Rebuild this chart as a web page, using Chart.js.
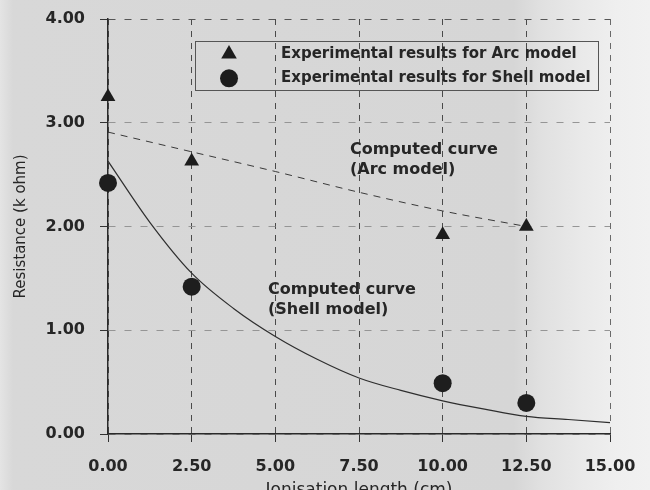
<!DOCTYPE html>
<html>
<head>
<meta charset="utf-8">
<script src="https://cdn.jsdelivr.net/npm/chart.js@4/dist/chart.umd.min.js"></script>
<style>
  html, body { margin: 0; padding: 0; background: #d7d7d7; }
  #wrap { width: 650px; height: 490px; }
</style>
</head>
<body>
<div id="wrap"><canvas id="c" width="650" height="490"></canvas></div>
<script>
// Axis ticks
const lengthTicks = [0, 2.5, 5, 7.5, 10, 12.5, 15];
const resistanceTicks = [0, 1, 2, 3, 4];

// Measured resistance (k ohm) against ionisation length (cm)
const measuredLength = [0, 2.5, 10, 12.5];
const arcMeasured = [3.25, 2.63, 1.92, 2.0];
const shellMeasured = [2.42, 1.42, 0.49, 0.30];

// Computed curves
const arcCurveLength = [0, 2.5, 5, 7.5, 10, 12.5];
const arcComputed = [2.91, 2.72, 2.53, 2.33, 2.15, 2.0];
const shellCurveLength = [0, 1.25, 2.5, 3.75, 5, 6.25, 7.5, 8.75, 10, 11.25, 12.5, 13.75, 15];
const shellComputed = [2.63, 2.04, 1.55, 1.21, 0.94, 0.72, 0.54, 0.42, 0.32, 0.24, 0.17, 0.14, 0.11];

const legendItems = [
  { style: 'triangle', text: 'Experimental results for Arc model' },
  { style: 'circle', text: 'Experimental results for Shell model' }
];
const curveNotes = [
  { x: 7.23, y: 2.74, lines: ['Computed curve', '(Arc model)'] },
  { x: 4.78, y: 1.39, lines: ['Computed curve', '(Shell model)'] }
];
const xTitle = 'Ionisation length (cm)';
const yTitle = 'Resistance (k ohm)';

const pts = (xs, ys) => xs.map((x, i) => ({ x: x, y: ys[i] }));
const INK = '#262626';
const FONT = '"DejaVu Sans", sans-serif';

const decor = {
  id: 'decor',
  beforeDraw(chart) {
    const { ctx, width, height } = chart;
    const g = ctx.createLinearGradient(0, 0, width, 0);
    g.addColorStop(0, '#e4e4e4');
    g.addColorStop(0.02, '#d8d8d8');
    g.addColorStop(0.79, '#d6d6d6');
    g.addColorStop(0.83, '#e0e0e0');
    g.addColorStop(0.9, '#eaeaea');
    g.addColorStop(0.95, '#efefef');
    g.addColorStop(1, '#f1f1f1');
    ctx.save();
    ctx.fillStyle = g;
    ctx.fillRect(0, 0, width, height);
    ctx.restore();
  },
  afterDatasetsDraw(chart) {
    const { ctx, chartArea } = chart;
    const xs = chart.scales.x, ys = chart.scales.y;
    ctx.save();

    // legend box
    const bx0 = xs.getPixelForValue(2.6), bx1 = xs.getPixelForValue(14.65);
    const by0 = ys.getPixelForValue(3.79), by1 = ys.getPixelForValue(3.32);
    ctx.strokeStyle = '#555';
    ctx.lineWidth = 1;
    ctx.setLineDash([]);
    ctx.strokeRect(Math.round(bx0) + 0.5, Math.round(by0) + 0.5, Math.round(bx1 - bx0), Math.round(by1 - by0));
    const rowH = (by1 - by0) / 2;
    legendItems.forEach((it, i) => {
      const cy = by0 + rowH * (i + 0.5) + 1;
      ctx.fillStyle = '#1c1c1c';
      Chart.helpers.drawPoint(ctx, { pointStyle: it.style, radius: 9, rotation: 0, borderWidth: 0 }, bx0 + 34, cy);
      ctx.fillStyle = INK;
      ctx.font = 'bold 15px ' + FONT;
      ctx.textAlign = 'left';
      ctx.textBaseline = 'middle';
      ctx.fillText(it.text, bx0 + 86, cy);
    });

    // curve notes
    ctx.font = 'bold 16px ' + FONT;
    ctx.fillStyle = INK;
    ctx.textAlign = 'left';
    ctx.textBaseline = 'middle';
    curveNotes.forEach(n => {
      const px = xs.getPixelForValue(n.x), py = ys.getPixelForValue(n.y);
      n.lines.forEach((l, i) => ctx.fillText(l, px, py + i * 20));
    });

    // axis titles
    ctx.font = '15px ' + FONT;
    ctx.save();
    ctx.translate(21, (chartArea.top + chartArea.bottom) / 2);
    ctx.rotate(-Math.PI / 2);
    ctx.textAlign = 'center';
    ctx.fillText(yTitle, 0, 0);
    ctx.restore();
    ctx.font = '17px ' + FONT;
    ctx.textAlign = 'center';
    ctx.textBaseline = 'top';
    ctx.fillText(xTitle, (chartArea.left + chartArea.right) / 2, 482);
    ctx.restore();
  }
};

new Chart(document.getElementById('c'), {
  type: 'scatter',
  data: {
    datasets: [
      {
        label: 'Computed curve (Arc model)',
        data: pts(arcCurveLength, arcComputed),
        showLine: true,
        borderColor: '#3a3a3a',
        borderWidth: 1,
        borderDash: [7, 6],
        pointRadius: 0,
        cubicInterpolationMode: 'monotone'
      },
      {
        label: 'Computed curve (Shell model)',
        data: pts(shellCurveLength, shellComputed),
        showLine: true,
        borderColor: '#2e2e2e',
        borderWidth: 1.2,
        pointRadius: 0,
        cubicInterpolationMode: 'monotone'
      },
      {
        label: 'Experimental results for Arc model',
        data: pts(measuredLength, arcMeasured),
        pointStyle: 'triangle',
        pointRadius: 8.5,
        pointBackgroundColor: '#1c1c1c',
        pointBorderWidth: 0,
        clip: false
      },
      {
        label: 'Experimental results for Shell model',
        data: pts(measuredLength, shellMeasured),
        pointStyle: 'circle',
        pointRadius: 9,
        pointBackgroundColor: '#1e1e1e',
        pointBorderWidth: 0,
        clip: false
      }
    ]
  },
  options: {
    responsive: false,
    animation: false,
    events: [],
    layout: { padding: { left: 0, right: 40, top: 19, bottom: 0 } },
    plugins: { legend: { display: false }, tooltip: { enabled: false } },
    scales: {
      x: {
        type: 'linear',
        min: 0, max: 15,
        afterBuildTicks: s => { s.ticks = lengthTicks.map(v => ({ value: v })); },
        afterFit: s => { s.height = 56; s.paddingLeft = 0; s.paddingRight = 0; },
        ticks: {
          callback: v => Number(v).toFixed(2),
          font: { family: FONT, size: 16, weight: 'bold' },
          color: INK,
          padding: 15,
          maxRotation: 0
        },
        grid: {
          color: ctx => ctx.tick && ctx.tick.value === 15 ? '#6a6a6a' : '#4a4a4a',
          lineWidth: 1,
          tickLength: 8,
          tickColor: '#333',
          tickBorderDash: []
        },
        border: { display: true, color: '#2a2a2a', width: 1.5, dash: [6, 6] }
      },
      y: {
        type: 'linear',
        min: 0, max: 4,
        afterBuildTicks: s => { s.ticks = resistanceTicks.map(v => ({ value: v })); },
        afterFit: s => { s.width = 108; s.paddingTop = 0; s.paddingBottom = 0; },
        ticks: {
          callback: v => Number(v).toFixed(2),
          font: { family: FONT, size: 16, weight: 'bold' },
          color: INK,
          padding: 15
        },
        grid: {
          color: ctx => ctx.tick && ctx.tick.value === 4 ? '#555' : '#959595',
          lineWidth: 1,
          tickLength: 8,
          tickColor: '#333',
          tickBorderDash: []
        },
        border: { display: true, color: '#2a2a2a', width: 1.5, dash: [7, 9] }
      }
    }
  },
  plugins: [decor]
});
</script>
</body>
</html>
